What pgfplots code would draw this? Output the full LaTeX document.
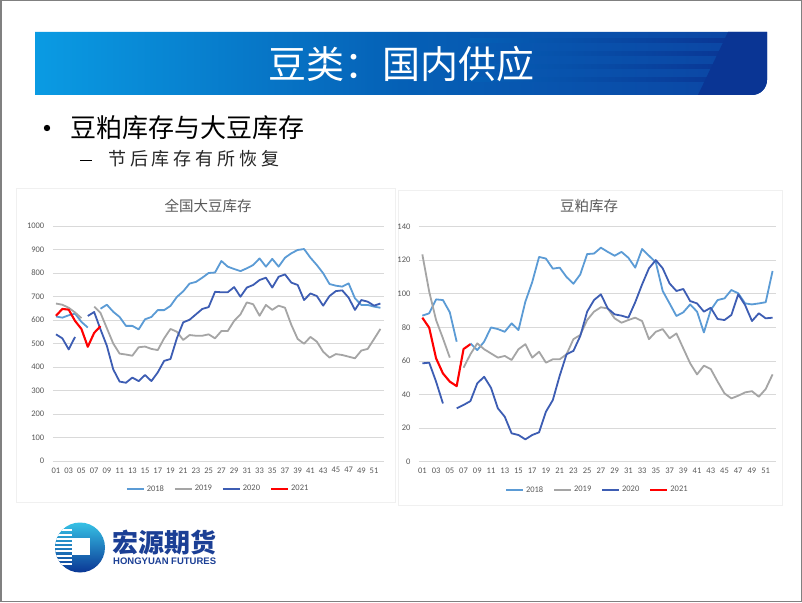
\documentclass[border=0pt]{standalone}
\usepackage{fontspec}
\setmainfont{Carlito}
\newfontfamily\cjk{Noto Sans CJK SC}
\newfontfamily\arialb{Liberation Sans}
\usepackage{pgfplots}
\usepackage{pgfplotstable}
\pgfplotsset{compat=1.18}

\definecolor{c18}{HTML}{5B9BD5}
\definecolor{c19}{HTML}{A5A5A5}
\definecolor{c20}{HTML}{3D5DB3}
\definecolor{c21}{HTML}{FF0000}
\definecolor{gridc}{HTML}{D9D9D9}
\definecolor{txtc}{HTML}{595959}
\definecolor{barL}{HTML}{0A9BE3}
\definecolor{barM}{HTML}{0560B6}
\definecolor{barR}{HTML}{0C43A2}
\definecolor{barD}{HTML}{0A3594}
\definecolor{logoc}{HTML}{1B3F95}

% soybean stock: week, 2018, 2019, 2020, 2021
\pgfplotstableread{
w a b c d
1 615 670 539 618
2 610 665 522 647
3 620 652 475 644
4 627 632 528 596
5 592 608 nan 562
6 568 nan 617 486
7 nan 657 634 545
8 648 630 560 574
9 665 565 490 nan
10 635 500 390 nan
11 613 457 338 nan
12 575 453 333 nan
13 575 448 355 nan
14 560 484 340 nan
15 603 487 366 nan
16 613 477 340 nan
17 642 472 377 nan
18 642 522 426 nan
19 660 562 434 nan
20 698 550 522 nan
21 722 515 590 nan
22 755 536 601 nan
23 762 533 624 nan
24 780 533 647 nan
25 800 539 655 nan
26 802 522 720 nan
27 851 553 718 nan
28 827 553 718 nan
29 817 596 740 nan
30 808 624 699 nan
31 820 675 738 nan
32 834 667 749 nan
33 862 618 770 nan
34 827 664 780 nan
35 860 643 738 nan
36 827 661 784 nan
37 865 652 794 nan
38 884 579 759 nan
39 898 519 749 nan
40 902 499 685 nan
41 865 528 713 nan
42 834 508 702 nan
43 799 465 661 nan
44 753 440 702 nan
45 746 455 723 nan
46 742 451 726 nan
47 756 444 695 nan
48 692 437 643 nan
49 664 470 685 nan
50 664 477 678 nan
51 657 519 661 nan
52 652 562 670 nan
}\soy

% soybean meal stock
\pgfplotstableread{
w a b c d
1 87 123.5 58.6 85.8
2 88.4 101.3 59 79.8
3 96.7 84.4 47.7 61.6
4 96.3 73.5 34.7 52.6
5 89 62 nan 47.7
6 71.5 nan 31.8 45
7 nan 56 33.8 67.1
8 70.5 64 36.1 70
9 66.5 70.5 46.7 nan
10 71.5 67 50.6 nan
11 80 64.5 44 nan
12 79 62 31.8 nan
13 77.4 63 26.8 nan
14 82.4 60.6 16.9 nan
15 78.4 67 15.9 nan
16 95.3 70 13.3 nan
17 107 62 15.9 nan
18 122 65.5 17.5 nan
19 121 59 29.8 nan
20 115 61 36.7 nan
21 115.6 61 51.2 nan
22 110 64 64 nan
23 106 73 66 nan
24 111.6 75.5 74.9 nan
25 123.7 84.4 89.4 nan
26 124 89.4 96.3 nan
27 127.5 92 99.7 nan
28 125 91.3 91.3 nan
29 122.7 85.4 87.8 nan
30 125 82.8 87 nan
31 121.5 84.4 85.8 nan
32 115.6 85.8 95 nan
33 126.7 83.8 105.6 nan
34 122.7 73 115.2 nan
35 118.7 77.4 120.1 nan
36 101.7 79 115.2 nan
37 94.3 73.5 106.2 nan
38 86.8 76.4 101.7 nan
39 89 67.5 102.9 nan
40 93.7 58.6 95.7 nan
41 89.4 52 94.3 nan
42 77 57.2 89.4 nan
43 90.4 55.2 91.7 nan
44 96.3 47.7 85 nan
45 97.3 40.7 84.4 nan
46 102.3 37.7 87.4 nan
47 100.3 39.3 99.7 nan
48 94.3 41.3 93.3 nan
49 93.7 42 83.8 nan
50 94.3 38.7 88.4 nan
51 95 43.3 85.4 nan
52 113.6 52 85.8 nan
}\meal

\pgfplotsset{
  wk/.style={
    scale only axis, anchor=south west,
    xmin=0.5, xmax=52.5,
    xtick={1,3,...,51},
    xticklabels={01,03,05,07,09,11,13,15,17,19,21,23,25,27,29,31,33,35,37,39,41,43,45,47,49,51},
    axis line style={draw=none},
    major tick length=0pt,
    ymajorgrids, grid style={gridc, line width=0.75pt},
    tick label style={font=\fontsize{8.5}{10}\selectfont, text=txtc},
    /pgf/number format/assume math mode=true,
    /pgf/number format/1000 sep={},
    yticklabel style={xshift=-5pt},
    xticklabel style={yshift=-3pt},
    unbounded coords=jump,
    no markers,
    legend columns=4,
    legend cell align=left,
    legend style={draw=none, fill=none, font=\fontsize{8.5}{10}\selectfont,
      text=txtc, anchor=center,
      /tikz/every even column/.append style={column sep=8pt}},
    legend image code/.code={\draw[##1] (0pt,0pt) -- (17pt,0pt);},
    every axis plot/.append style={line width=1.8pt, line join=round},
  }
}

\begin{document}
\begin{tikzpicture}[x=1pt,y=1pt]
\useasboundingbox (0,0) rectangle (802,602);
\fill[white] (0,0) rectangle (802,602);

% title bar
\shade[left color=barL, right color=barR, middle color=barM]
  (35,570) -- (767,570) -- (767,522) arc[start angle=0, end angle=-90, radius=15] -- (35,507) -- cycle;
\foreach \yy in {559,546,533,520}
  \shade[left color=barM, right color=barD] (470,\yy) rectangle (735,\yy+4);
\fill[barD] (728,570) -- (767,570) -- (767,522) arc[start angle=0, end angle=-90, radius=15] -- (698,507) -- cycle;
\node[text=white, font=\cjk\fontsize{38}{40}\selectfont] at (401,538) {豆类：国内供应};

% bullets
\fill (47,474) circle (3.2);
\node[anchor=west, inner sep=0, font=\cjk\fontsize{26}{28}\selectfont] at (70,474) {豆粕库存与大豆库存};
\draw[line width=1pt] (80,441) -- (92,441);
\node[anchor=west, inner sep=0, font=\cjk\fontsize{18}{20}\selectfont, text=black!85]
  at (108,443) {节\hspace{3.9pt}后\hspace{3.9pt}库\hspace{3.9pt}存\hspace{3.9pt}有\hspace{3.9pt}所\hspace{3.9pt}恢\hspace{3.9pt}复};

% chart panels
\draw[gridc!40, line width=0.6pt] (16,100) rectangle (395,414);
\draw[gridc!40, line width=0.6pt] (398,97) rectangle (782,412);
\node[font=\cjk\fontsize{14.5}{16}\selectfont, text=txtc] at (208,396) {全国大豆库存};
\node[font=\cjk\fontsize{14.5}{16}\selectfont, text=txtc] at (589,396) {豆粕库存};

\begin{axis}[wk, at={(52.8pt,141pt)}, width=330.8pt, height=235pt,
  ymin=0, ymax=1000, ytick={0,100,...,1000},
  legend style={at={(0.5,-0.119)}}]
\addplot[c18] table[x=w, y=a] {\soy};
\addlegendentry{2018}
\addplot[c19] table[x=w, y=b] {\soy};
\addlegendentry{2019}
\addplot[c20] table[x=w, y=c] {\soy};
\addlegendentry{2020}
\addplot[c21, line width=2.1pt] table[x=w, y=d] {\soy};
\addlegendentry{2021}
\end{axis}

\begin{axis}[wk, at={(418.9pt,140.3pt)}, width=357.1pt, height=235pt,
  ymin=0, ymax=140, ytick={0,20,...,140},
  legend style={at={(0.5,-0.12)}}]
\addplot[c18] table[x=w, y=a] {\meal};
\addlegendentry{2018}
\addplot[c19] table[x=w, y=b] {\meal};
\addlegendentry{2019}
\addplot[c20] table[x=w, y=c] {\meal};
\addlegendentry{2020}
\addplot[c21, line width=2.1pt] table[x=w, y=d] {\meal};
\addlegendentry{2021}
\end{axis}

% logo
\begin{scope}
\clip (80,54.5) circle (25);
\shade[top color=c18!60!cyan, bottom color=barD] (55,29) rectangle (105,80);
\foreach \k in {0,...,8}
  \fill[white] (50,37+\k*4.2) rectangle (72,37+\k*4.2+2);
\end{scope}
\fill[white] (72,47) rectangle (90,64);
\node[anchor=west, inner sep=0, text=logoc, font=\cjk\bfseries\fontsize{26}{28}\selectfont] at (112,59) {宏源期货};
\node[anchor=west, inner sep=0, text=logoc, font=\arialb\bfseries\fontsize{9.5}{11}\selectfont] at (113,40.5) {HONGYUAN FUTURES};

% slide frame
\draw[gray, line width=1.5pt] (0.75,0.75) rectangle (801.25,601.25);
\end{tikzpicture}
\end{document}
